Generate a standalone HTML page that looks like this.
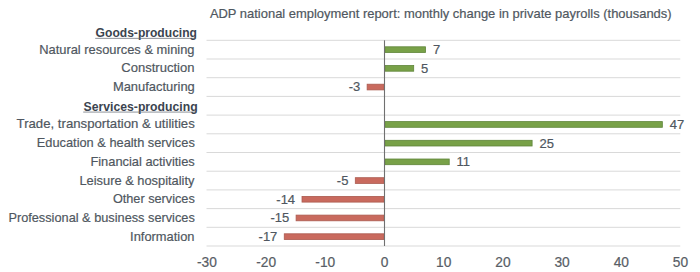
<!DOCTYPE html><html><head><meta charset="utf-8"><style>html,body{margin:0;padding:0;background:#fff;width:700px;height:272px;overflow:hidden}svg{display:block}text{font-family:"Liberation Sans",sans-serif;font-size:13.5px;fill:#4f5760;stroke:#4f5760;stroke-width:0.2px}</style></head><body>
<svg width="700" height="272" viewBox="0 0 700 272">
<text x="209.90" y="17.70" textLength="461.70" lengthAdjust="spacingAndGlyphs" style="font-size:13px">ADP national employment report: monthly change in private payrolls (thousands)</text>
<rect x="206.5" y="39.80" width="473.8" height="1" fill="#d9d9d9"/>
<rect x="206.5" y="58.50" width="473.8" height="1" fill="#d9d9d9"/>
<rect x="206.5" y="77.20" width="473.8" height="1" fill="#d9d9d9"/>
<rect x="206.5" y="95.90" width="473.8" height="1" fill="#d9d9d9"/>
<rect x="206.5" y="114.60" width="473.8" height="1" fill="#d9d9d9"/>
<rect x="206.5" y="133.30" width="473.8" height="1" fill="#d9d9d9"/>
<rect x="206.5" y="152.00" width="473.8" height="1" fill="#d9d9d9"/>
<rect x="206.5" y="170.70" width="473.8" height="1" fill="#d9d9d9"/>
<rect x="206.5" y="189.40" width="473.8" height="1" fill="#d9d9d9"/>
<rect x="206.5" y="208.10" width="473.8" height="1" fill="#d9d9d9"/>
<rect x="206.5" y="226.80" width="473.8" height="1" fill="#d9d9d9"/>
<rect x="206.5" y="245.50" width="473.8" height="1" fill="#d9d9d9"/>
<text x="95.60" y="36.80" textLength="101.40" lengthAdjust="spacingAndGlyphs" style="font-weight:bold;stroke-width:0;fill:#3b444f;font-size:13px">Goods-producing</text>
<rect x="95.20" y="37.90" width="100.90" height="0.7" fill="#5d646e"/>
<text x="39.20" y="53.65" textLength="155.30" lengthAdjust="spacingAndGlyphs">Natural resources &amp; mining</text>
<rect x="384.90" y="46.80" width="40.64" height="5.70" fill="#78a148" stroke="#5f853a" stroke-width="0.80"/>
<text x="432.94" y="54.05" style="font-size:13px">7</text>
<text x="121.30" y="72.35" textLength="73.20" lengthAdjust="spacingAndGlyphs">Construction</text>
<rect x="384.90" y="65.50" width="28.80" height="5.70" fill="#78a148" stroke="#5f853a" stroke-width="0.80"/>
<text x="421.10" y="72.75" style="font-size:13px">5</text>
<text x="112.90" y="91.05" textLength="81.90" lengthAdjust="spacingAndGlyphs">Manufacturing</text>
<rect x="367.14" y="84.20" width="16.96" height="5.70" fill="#c96a5e" stroke="#ab5a4f" stroke-width="0.80"/>
<text x="360.24" y="91.45" text-anchor="end" style="font-size:13px">-3</text>
<text x="83.60" y="110.60" textLength="114.00" lengthAdjust="spacingAndGlyphs" style="font-weight:bold;stroke-width:0;fill:#3b444f;font-size:13px">Services-producing</text>
<rect x="83.20" y="111.70" width="113.50" height="0.7" fill="#5d646e"/>
<text x="16.60" y="128.45" textLength="178.20" lengthAdjust="spacingAndGlyphs">Trade, transportation &amp; utilities</text>
<rect x="384.90" y="121.60" width="277.44" height="5.70" fill="#78a148" stroke="#5f853a" stroke-width="0.80"/>
<text x="669.74" y="128.85" style="font-size:13px">47</text>
<text x="36.80" y="147.15" textLength="158.00" lengthAdjust="spacingAndGlyphs">Education &amp; health services</text>
<rect x="384.90" y="140.30" width="147.20" height="5.70" fill="#78a148" stroke="#5f853a" stroke-width="0.80"/>
<text x="539.50" y="147.55" style="font-size:13px">25</text>
<text x="90.40" y="165.85" textLength="104.40" lengthAdjust="spacingAndGlyphs">Financial activities</text>
<rect x="384.90" y="159.00" width="64.32" height="5.70" fill="#78a148" stroke="#5f853a" stroke-width="0.80"/>
<text x="456.62" y="166.25" style="font-size:13px">11</text>
<text x="79.40" y="184.55" textLength="115.10" lengthAdjust="spacingAndGlyphs">Leisure &amp; hospitality</text>
<rect x="355.30" y="177.70" width="28.80" height="5.70" fill="#c96a5e" stroke="#ab5a4f" stroke-width="0.80"/>
<text x="348.40" y="184.95" text-anchor="end" style="font-size:13px">-5</text>
<text x="112.90" y="203.25" textLength="81.90" lengthAdjust="spacingAndGlyphs">Other services</text>
<rect x="302.02" y="196.40" width="82.08" height="5.70" fill="#c96a5e" stroke="#ab5a4f" stroke-width="0.80"/>
<text x="295.12" y="203.65" text-anchor="end" style="font-size:13px">-14</text>
<text x="8.40" y="221.95" textLength="186.40" lengthAdjust="spacingAndGlyphs">Professional &amp; business services</text>
<rect x="296.10" y="215.10" width="88.00" height="5.70" fill="#c96a5e" stroke="#ab5a4f" stroke-width="0.80"/>
<text x="289.20" y="222.35" text-anchor="end" style="font-size:13px">-15</text>
<text x="130.10" y="240.65" textLength="64.40" lengthAdjust="spacingAndGlyphs">Information</text>
<rect x="284.26" y="233.80" width="99.84" height="5.70" fill="#c96a5e" stroke="#ab5a4f" stroke-width="0.80"/>
<text x="277.36" y="241.05" text-anchor="end" style="font-size:13px">-17</text>
<rect x="383.95" y="40.30" width="1.1" height="205.70" fill="#707070"/>
<text x="206.90" y="266.6" text-anchor="middle" style="font-size:13.75px;fill:#585e66;stroke:#585e66">-30</text>
<text x="266.10" y="266.6" text-anchor="middle" style="font-size:13.75px;fill:#585e66;stroke:#585e66">-20</text>
<text x="325.30" y="266.6" text-anchor="middle" style="font-size:13.75px;fill:#585e66;stroke:#585e66">-10</text>
<text x="384.50" y="266.6" text-anchor="middle" style="font-size:13.75px;fill:#585e66;stroke:#585e66">0</text>
<text x="443.70" y="266.6" text-anchor="middle" style="font-size:13.75px;fill:#585e66;stroke:#585e66">10</text>
<text x="502.90" y="266.6" text-anchor="middle" style="font-size:13.75px;fill:#585e66;stroke:#585e66">20</text>
<text x="562.10" y="266.6" text-anchor="middle" style="font-size:13.75px;fill:#585e66;stroke:#585e66">30</text>
<text x="621.30" y="266.6" text-anchor="middle" style="font-size:13.75px;fill:#585e66;stroke:#585e66">40</text>
<text x="680.50" y="266.6" text-anchor="middle" style="font-size:13.75px;fill:#585e66;stroke:#585e66">50</text>
</svg></body></html>
